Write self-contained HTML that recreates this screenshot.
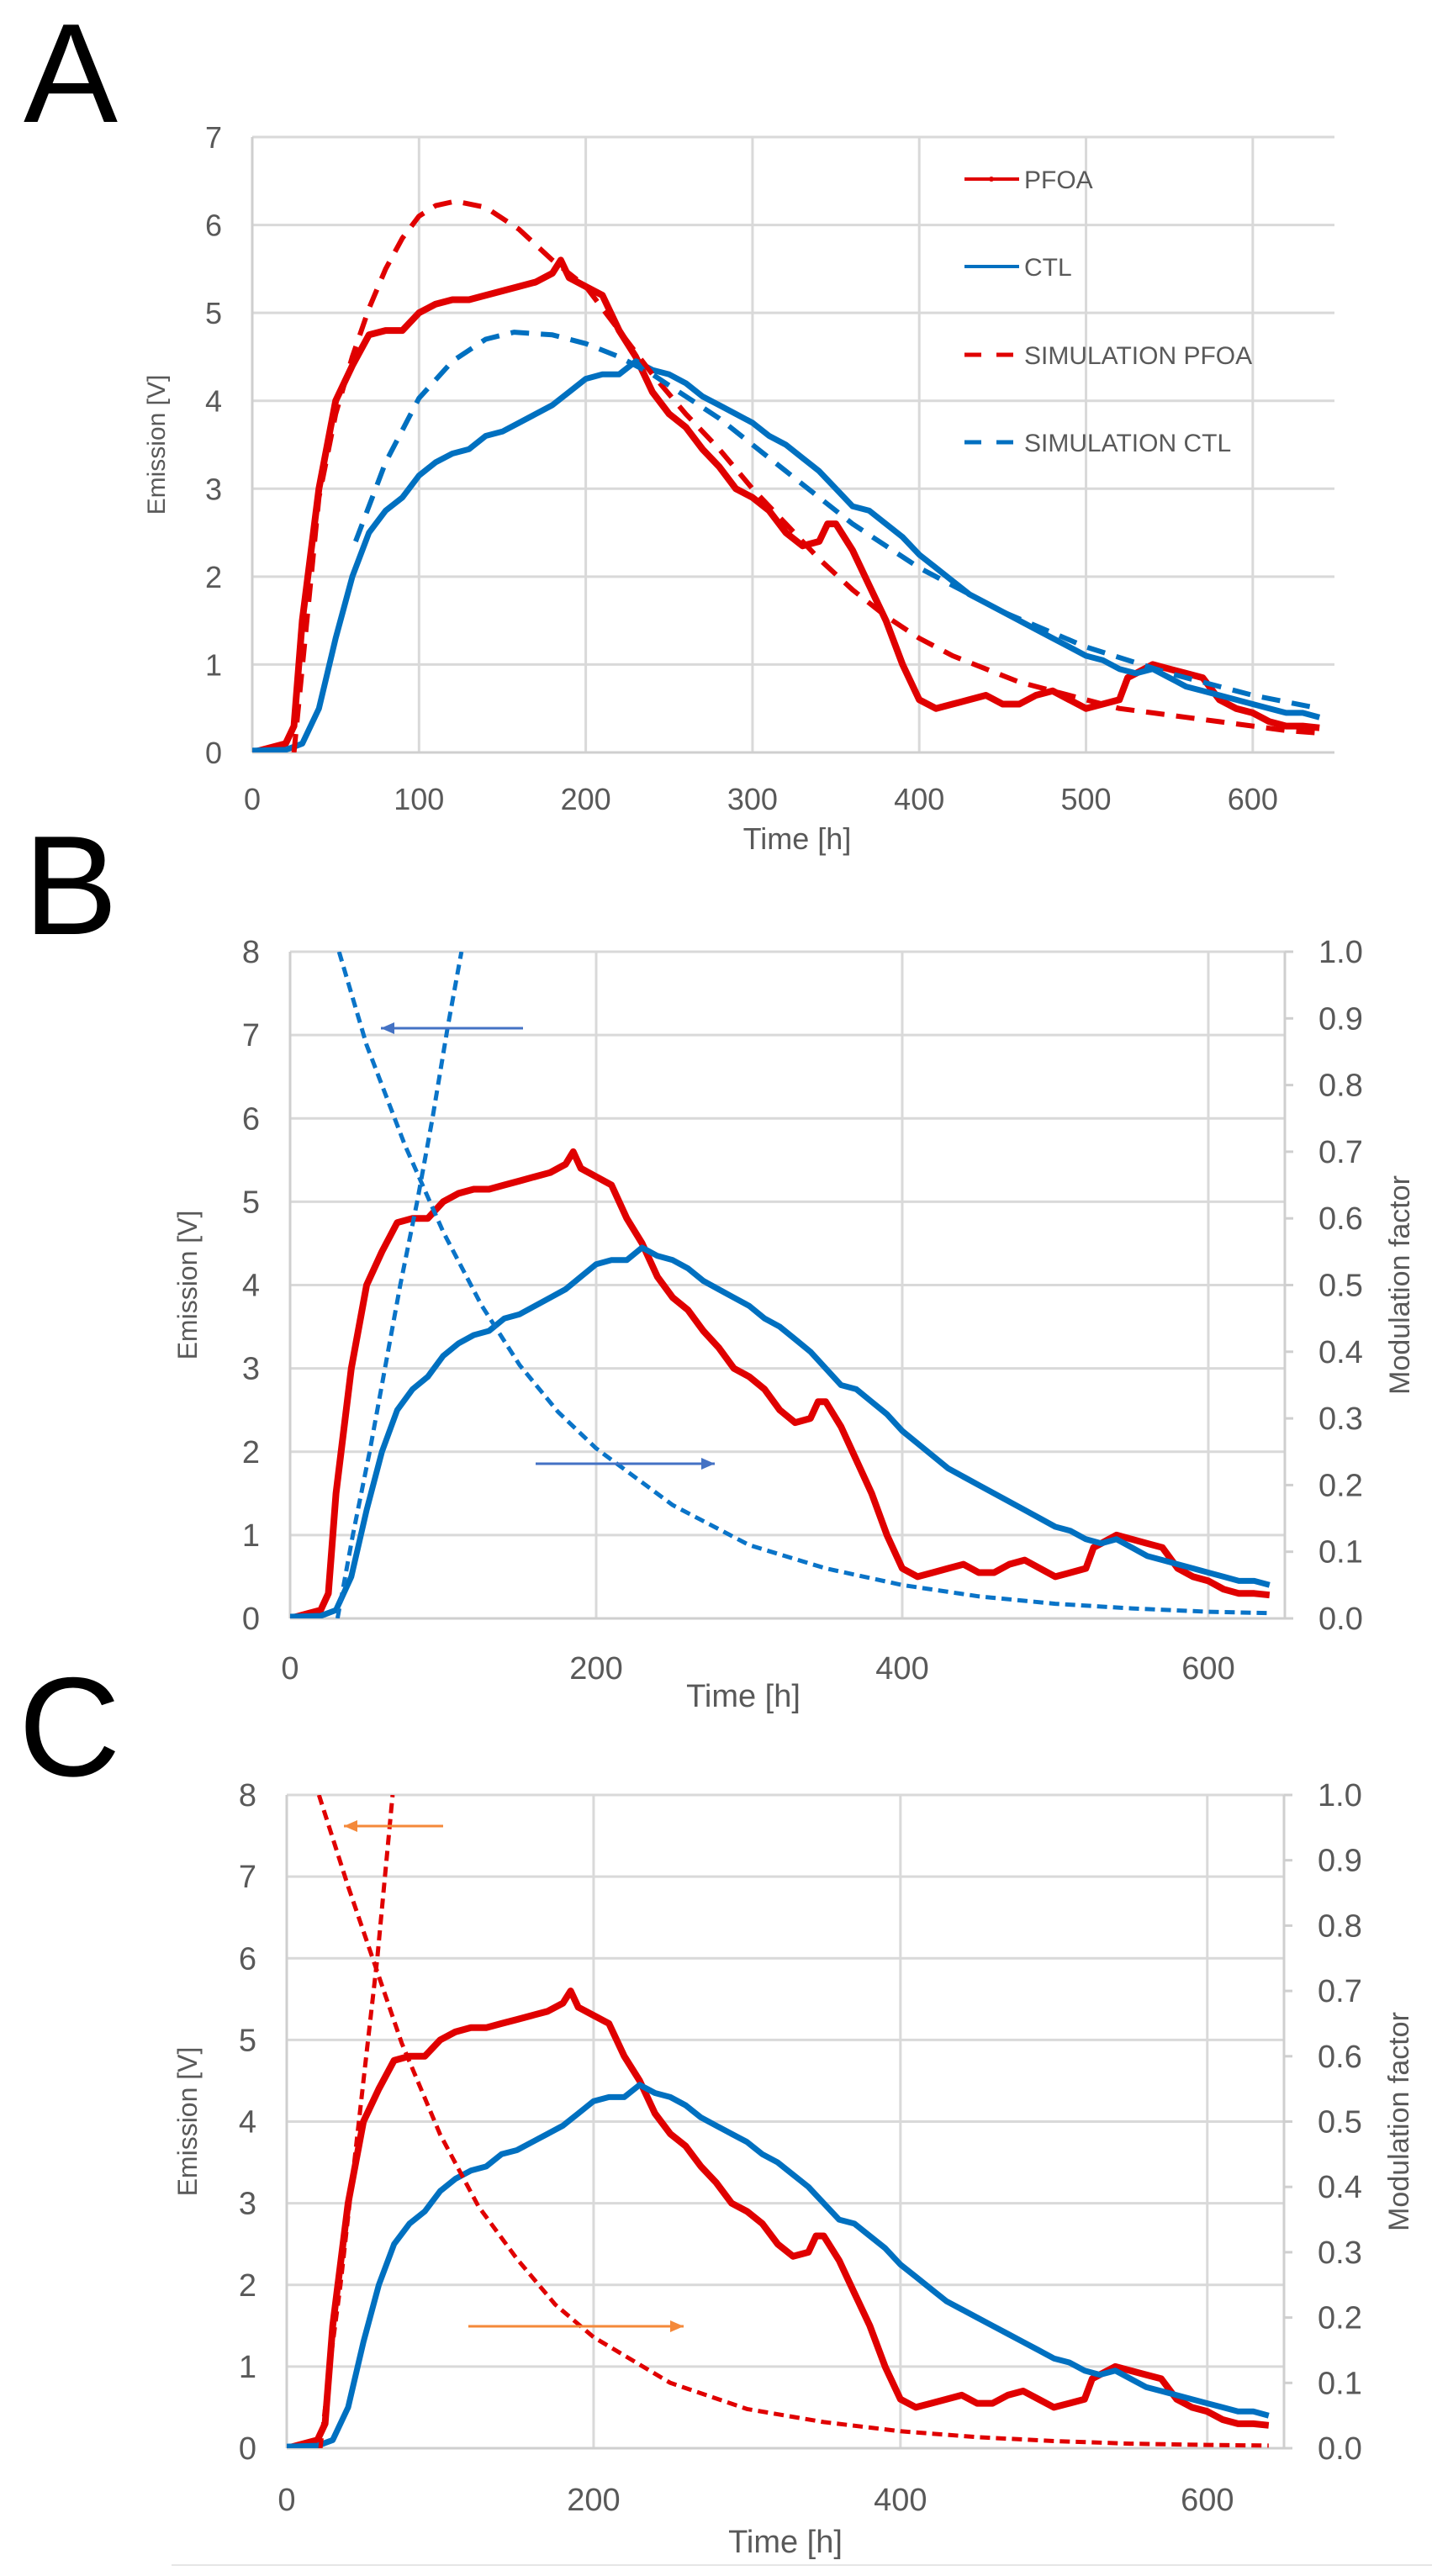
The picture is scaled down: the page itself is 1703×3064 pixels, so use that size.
<!DOCTYPE html>
<html><head><meta charset="utf-8"><style>
html,body{margin:0;padding:0;background:#fff}
svg{display:block}
text{font-family:"Liberation Sans Narrow","Liberation Sans",sans-serif;fill:#595959}
.big{font-family:"Liberation Sans",sans-serif;fill:#000}
</style></head><body>
<svg id="fig" width="1703" height="3064" viewBox="0 0 1703 3064" xmlns="http://www.w3.org/2000/svg"></svg>
<script>
// ---- data ----
const pfoaT = [0,10,20,25,30,40,50,60,70,80,90,100,110,120,130,140,150,160,170,180,185,190,200,210,220,230,240,250,260,270,280,290,300,310,320,330,340,345,350,360,370,380,390,400,410,420,430,440,450,460,470,480,490,500,510,520,525,530,540,550,560,570,580,590,600,610,620,630,640];
const pfoaV = [0,0.05,0.1,0.3,1.5,3.0,4.0,4.4,4.75,4.8,4.8,5.0,5.1,5.15,5.15,5.2,5.25,5.3,5.35,5.45,5.6,5.4,5.3,5.2,4.8,4.5,4.1,3.85,3.7,3.45,3.25,3.0,2.9,2.75,2.5,2.35,2.4,2.6,2.6,2.3,1.9,1.5,1.0,0.6,0.5,0.55,0.6,0.65,0.55,0.55,0.65,0.7,0.6,0.5,0.55,0.6,0.85,0.9,1.0,0.95,0.9,0.85,0.6,0.5,0.45,0.35,0.3,0.3,0.28];
const ctlT = [0,20,30,40,50,60,70,80,90,100,110,120,130,140,150,160,170,180,190,200,210,220,230,240,250,260,270,280,290,300,310,320,330,340,350,360,370,380,390,400,410,420,430,440,450,460,470,480,490,500,510,520,530,540,550,560,570,580,590,600,610,620,630,640];
const ctlV = [0.02,0.03,0.1,0.5,1.3,2.0,2.5,2.75,2.9,3.15,3.3,3.4,3.45,3.6,3.65,3.75,3.85,3.95,4.1,4.25,4.3,4.3,4.45,4.35,4.3,4.2,4.05,3.95,3.85,3.75,3.6,3.5,3.35,3.2,3.0,2.8,2.75,2.6,2.45,2.25,2.1,1.95,1.8,1.7,1.6,1.5,1.4,1.3,1.2,1.1,1.05,0.95,0.9,0.95,0.85,0.75,0.7,0.65,0.6,0.55,0.5,0.45,0.45,0.4];
const simPfoaT = [25,40,50,60,70,80,90,100,110,122,140,160,180,200,220,240,260,280,300,320,340,360,380,400,420,440,460,480,500,520,540,560,580,600,620,640];
const simPfoaV = [0,2.9,3.85,4.5,5.05,5.5,5.85,6.1,6.22,6.27,6.2,5.95,5.6,5.3,4.8,4.3,3.85,3.45,3.0,2.6,2.2,1.85,1.55,1.3,1.1,0.95,0.8,0.7,0.6,0.5,0.45,0.4,0.35,0.3,0.25,0.22];
const simCtlT = [62,80,100,120,140,157,180,200,220,240,260,280,300,320,340,360,380,400,420,450,500,550,600,640];
const simCtlV = [2.4,3.3,4.03,4.45,4.7,4.78,4.75,4.65,4.5,4.3,4.05,3.8,3.5,3.2,2.9,2.6,2.35,2.1,1.9,1.6,1.2,0.9,0.65,0.5];
const modBDecT = [32,50,75,100,125,150,175,200,250,300,350,400,450,500,550,600,640];
const modBDecV = [1.0,0.86,0.71,0.58,0.47,0.38,0.31,0.255,0.17,0.11,0.075,0.05,0.033,0.022,0.015,0.01,0.008];
const modBIncT = [31,41,52,62,72,83,93,103,112];
const modBIncV = [0,1,2,3,4,5,6,7.1,8];
const modCDecT = [21,40,56,75,100,125,150,175,200,250,300,350,400,450,500,550,600,640];
const modCDecV = [1.0,0.86,0.75,0.62,0.48,0.37,0.29,0.22,0.17,0.10,0.06,0.04,0.026,0.017,0.011,0.007,0.005,0.004];
const modCIncT = [22,28,35,41,47,53,59,64,69];
const modCIncV = [0,1,2,3,4,5,6,7,8];
const xTicksA = [0,100,200,300,400,500,600];
const xTicksBC = [0,200,400,600];
const yTicksA = [0,1,2,3,4,5,6,7];
const yTicksBC = [0,1,2,3,4,5,6,7,8];
const rTicks = ["0.0","0.1","0.2","0.3","0.4","0.5","0.6","0.7","0.8","0.9","1.0"];

const NS="http://www.w3.org/2000/svg";
const svg=document.getElementById('fig');
function mk(tag,attrs,parent){const e=document.createElementNS(NS,tag);for(const k in attrs)e.setAttribute(k,attrs[k]);(parent||svg).appendChild(e);return e;}
function txt(s,attrs,parent){const e=mk('text',attrs,parent);e.textContent=s;return e;}

const RED="#e00000", BLUE="#0070c0", GRID="#d9d9d9";

function panel(cfg){
  const g=mk('g',{});
  
  
  const X=t=>cfg.x0+(t-0)*(cfg.x1-cfg.x0)/cfg.xmax;
  const Y=v=>cfg.y0-v*(cfg.y0-cfg.y1)/cfg.ymax;
  const R=v=>cfg.y0-v*(cfg.y0-cfg.y1);
  const L=txt(cfg.letter,{x:cfg.lx,y:cfg.ly,'font-size':168,class:'big'},g);
  
  
  cfg.yTicks.forEach(v=>{
    const l=mk('line',{x1:cfg.x0,x2:cfg.x1,y1:Y(v),y2:Y(v),stroke:GRID,'stroke-width':3},g);
    
    
    const t=txt(String(v),{x:cfg.x0-36,y:Y(v)+13,'font-size':cfg.fs,'text-anchor':'end'},g);
    
    
  });
  cfg.xTicks.forEach(v=>{
    const l=mk('line',{x1:X(v),x2:X(v),y1:cfg.y1,y2:cfg.y0,stroke:GRID,'stroke-width':3},g);
    
    
    const t=txt(String(v),{x:X(v),y:cfg.xly,'font-size':cfg.fs,'text-anchor':'middle'},g);
    
    
  });
  const ax=mk('line',{x1:cfg.x0,x2:cfg.x0,y1:cfg.y1,y2:cfg.y0,stroke:"#cfcfcf",'stroke-width':3},g);
  
  
  const bx=mk('line',{x1:cfg.x0,x2:cfg.x1,y1:cfg.y0,y2:cfg.y0,stroke:"#cfcfcf",'stroke-width':3},g);
  
  
  if(cfg.right){
    const ra=mk('line',{x1:cfg.x1,x2:cfg.x1,y1:cfg.y1,y2:cfg.y0,stroke:"#cfcfcf",'stroke-width':3},g);
    
    
    rTicks.forEach(s=>{
      const v=parseFloat(s);
      const tk=mk('line',{x1:cfg.x1,x2:cfg.x1+10,y1:R(v),y2:R(v),stroke:"#cfcfcf",'stroke-width':3},g);
      
      
      const t=txt(s,{x:cfg.x1+40,y:R(v)+13,'font-size':cfg.fs},g);
      
      
    });
    const mt=txt('Modulation factor',{x:0,y:0,'font-size':34,'text-anchor':'middle',transform:`translate(${cfg.x1+148},${(cfg.y0+cfg.y1)/2}) rotate(-90)`,style:'font-family:"Liberation Sans",sans-serif'},g);
    
    
  }
  const yt=txt('Emission [V]',{x:0,y:0,'font-size':cfg.tfs,'text-anchor':'middle',transform:`translate(${cfg.ytx},${(cfg.y0+cfg.y1)/2}) rotate(-90)`,style:'font-family:"Liberation Sans",sans-serif'},g);
  
  
  const xt=txt('Time [h]',{x:cfg.xtx,y:cfg.xty,'font-size':cfg.fs,'text-anchor':'middle'},g);
  
  

  const clip=mk('clipPath',{id:'clip'+cfg.letter},g);
  mk('rect',{x:cfg.x0,y:cfg.y1,width:cfg.x1-cfg.x0,height:cfg.y0-cfg.y1},clip);
  function series(T,V,fn,attrs,name){
    const d=T.map((t,i)=>(i?'L':'M')+X(t).toFixed(1)+','+fn(V[i]).toFixed(1)).join(' ');
    const p=mk('path',Object.assign({d:d,fill:'none','stroke-linejoin':'round','clip-path':`url(#clip${cfg.letter})`},attrs),g);
    
    
  }
  series(pfoaT,pfoaV,Y,{stroke:RED,'stroke-width':8},'pfoa-line');
  series(ctlT,ctlV,Y,{stroke:BLUE,'stroke-width':7},'ctl-line');
  (cfg.extraTop||[]).forEach(s=>series(s.T,s.V,s.right?R:Y,s.attrs,s.name));
  return {g,X,Y};
}

panel({name:'panel-a',letter:'A',lx:28,ly:145,x0:300,x1:1587,xmax:649,y0:895,y1:163,ymax:7,
  yTicks:yTicksA,xTicks:xTicksA,fs:36,tfs:30,xly:963,ytx:196,xtx:948,xty:1010,
  extraTop:[
    {T:simPfoaT,V:simPfoaV,attrs:{stroke:RED,'stroke-width':6,'stroke-dasharray':'22 14'},name:'simulation-pfoa-line'},
    {T:simCtlT,V:simCtlV,attrs:{stroke:BLUE,'stroke-width':6,'stroke-dasharray':'22 14'},name:'simulation-ctl-line'}
  ]});
const leg=mk('g',{});


const legItems=[['PFOA',RED,null,213],['CTL',BLUE,null,317],['SIMULATION PFOA',RED,'20 18',422],['SIMULATION CTL',BLUE,'20 18',526]];
legItems.forEach(it=>{
  const e=mk('g',{},leg);
  
  
  const a={x1:1147,x2:1212,y1:it[3],y2:it[3],stroke:it[1],'stroke-width':it[2]?5:4};
  if(it[2])a['stroke-dasharray']=it[2];
  mk('line',a,e);
  if(it[0]==='PFOA')mk('circle',{cx:1179,cy:it[3],r:3,fill:RED},e);
  txt(it[0],{x:1218,y:it[3]+11,'font-size':30},e);
});

function arrow(x1,x2,y,color,name){
  const g=mk('g',{});
  
  
  mk('line',{x1:x1,x2:x2,y1:y,y2:y,stroke:color,'stroke-width':3},g);
  const s=x2>x1?-1:1;
  mk('path',{d:`M${x2},${y} L${x2+s*16},${y-7} L${x2+s*16},${y+7} Z`,fill:color},g);
}

panel({name:'panel-b',letter:'B',lx:28,ly:1111,x0:345,x1:1528,xmax:650,y0:1925,y1:1132,ymax:8,right:true,
  yTicks:yTicksBC,xTicks:xTicksBC,fs:38,tfs:32,xly:1997,ytx:234,xtx:884,xty:2030,
  extraTop:[
    {T:modBDecT,V:modBDecV,right:true,attrs:{stroke:'#0a74c8','stroke-width':5,'stroke-dasharray':'12 7'},name:'modulation-decreasing-line'},
    {T:modBIncT,V:modBIncV,attrs:{stroke:'#0a74c8','stroke-width':5,'stroke-dasharray':'12 7'},name:'modulation-increasing-line'}
  ]});
arrow(622,453,1223,'#4472c4','left-arrow-b');
arrow(637,850,1741,'#4472c4','right-arrow-b');

panel({name:'panel-c',letter:'C',lx:22,ly:2112,x0:341,x1:1527,xmax:650,y0:2912,y1:2135,ymax:8,right:true,
  yTicks:yTicksBC,xTicks:xTicksBC,fs:38,tfs:32,xly:2986,ytx:234,xtx:934,xty:3036,
  extraTop:[
    {T:modCDecT,V:modCDecV,right:true,attrs:{stroke:RED,'stroke-width':5,'stroke-dasharray':'12 7'},name:'modulation-decreasing-line'},
    {T:modCIncT,V:modCIncV,attrs:{stroke:RED,'stroke-width':5,'stroke-dasharray':'12 7'},name:'modulation-increasing-line'}
  ]});
arrow(527,409,2172,'#f4893a','left-arrow-c');
arrow(557,813,2767,'#f4893a','right-arrow-c');
const bl=mk('line',{x1:204,x2:1703,y1:3051,y2:3051,stroke:'#e6e6e6','stroke-width':2});


</script>
</body></html>
